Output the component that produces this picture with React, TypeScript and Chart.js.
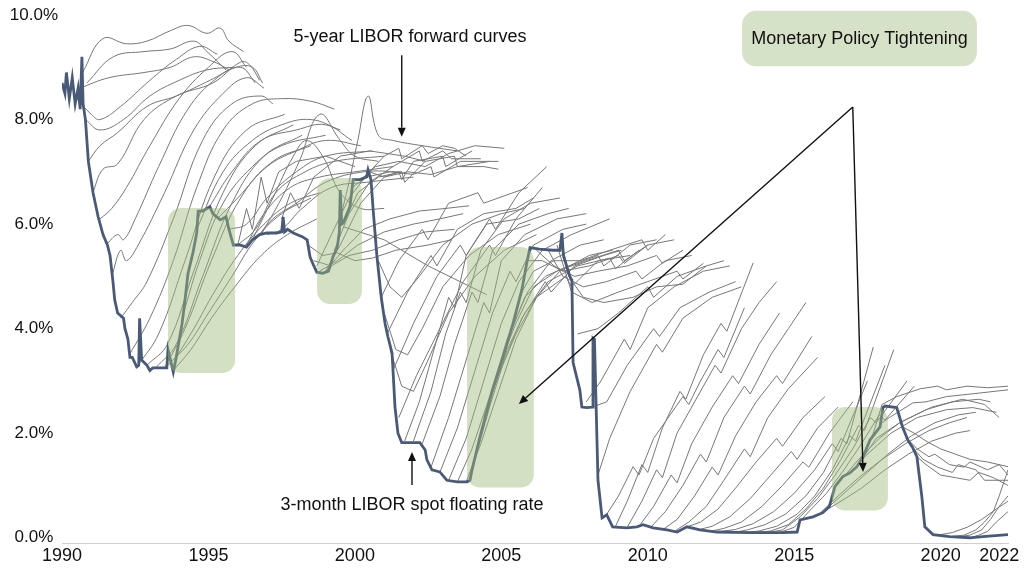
import React, { useEffect, useRef } from 'react';
import { Chart, registerables } from 'chart.js';

Chart.register(...registerables);

type P = [number, number];

const FONT = '"Liberation Sans", Arial, Helvetica, sans-serif';

// Axis ticks
const xTicks = [1990, 1995, 2000, 2005, 2010, 2015, 2020, 2022];
const yTicks = [0, 2, 4, 6, 8, 10];

// 3-month LIBOR spot rate [year, %]
const spotRate: P[] = [
  [1990.0, 8.7], [1990.1, 8.5], [1990.15, 8.9], [1990.25, 8.4], [1990.35, 8.8], [1990.45, 8.3], [1990.55, 8.6],
  [1990.62, 8.2], [1990.68, 9.2], [1990.72, 8.3], [1990.8, 8.0], [1990.9, 7.2], [1991.06, 6.6], [1991.23, 6.15],
  [1991.4, 5.8], [1991.55, 5.6], [1991.64, 5.4], [1991.74, 4.9], [1991.8, 4.55], [1991.9, 4.3], [1992.1, 4.2],
  [1992.15, 4.0], [1992.25, 3.8], [1992.32, 3.45], [1992.4, 3.45], [1992.55, 3.27], [1992.62, 3.3], [1992.65, 4.2],
  [1992.72, 3.4], [1992.9, 3.3], [1993.0, 3.2], [1993.1, 3.25], [1993.35, 3.25], [1993.58, 3.25], [1993.62, 3.6],
  [1993.8, 3.17], [1993.9, 3.45], [1994.1, 4.1], [1994.2, 4.55], [1994.3, 5.05], [1994.47, 5.45], [1994.6, 5.83],
  [1994.65, 6.25], [1994.8, 6.25], [1995.05, 6.33], [1995.15, 6.2], [1995.4, 6.08], [1995.6, 6.14], [1995.7, 5.9],
  [1995.85, 5.6], [1996.07, 5.6], [1996.3, 5.56], [1996.5, 5.7], [1996.75, 5.8], [1997.0, 5.83], [1997.33, 5.83],
  [1997.5, 5.85], [1997.55, 6.14], [1997.6, 5.85], [1997.7, 5.9], [1997.9, 5.83], [1998.2, 5.76], [1998.37, 5.7],
  [1998.47, 5.37], [1998.6, 5.2], [1998.7, 5.08], [1998.9, 5.06], [1999.1, 5.1], [1999.25, 5.37], [1999.4, 5.56],
  [1999.47, 5.85], [1999.5, 6.65], [1999.55, 6.0], [1999.6, 6.02], [1999.83, 6.33], [1999.94, 6.85], [2000.17, 6.85],
  [2000.4, 6.9], [2000.45, 7.04], [2000.55, 6.85], [2000.62, 6.3], [2000.75, 5.4], [2000.9, 4.6], [2001.03, 4.1],
  [2001.13, 3.84], [2001.27, 3.53], [2001.37, 2.5], [2001.47, 2.0], [2001.6, 1.82], [2001.88, 1.82], [2002.22, 1.82],
  [2002.4, 1.68], [2002.46, 1.49], [2002.63, 1.3], [2002.9, 1.26], [2003.14, 1.1], [2003.49, 1.07], [2003.83, 1.07],
  [2003.93, 1.1], [2004.0, 1.3], [2004.27, 1.93], [2004.7, 2.83], [2005.06, 3.46], [2005.4, 4.1], [2005.7, 4.74],
  [2005.87, 5.26], [2005.98, 5.55], [2006.3, 5.52], [2006.76, 5.5], [2007.0, 5.5], [2007.07, 5.83], [2007.12, 5.4],
  [2007.24, 5.18], [2007.34, 5.0], [2007.41, 4.93], [2007.45, 3.35], [2007.68, 2.83], [2007.75, 2.5], [2007.92, 2.49],
  [2008.1, 2.5], [2008.13, 3.82], [2008.18, 3.8], [2008.3, 1.1], [2008.44, 0.38], [2008.6, 0.44], [2008.8, 0.21],
  [2009.29, 0.19], [2009.63, 0.21], [2009.84, 0.25], [2010.18, 0.19], [2010.66, 0.15], [2011.0, 0.11], [2011.34, 0.21],
  [2011.78, 0.15], [2012.36, 0.11], [2013.49, 0.1], [2014.6, 0.1], [2015.1, 0.11], [2015.2, 0.34], [2015.64, 0.4],
  [2015.98, 0.48], [2016.2, 0.6], [2016.39, 0.98], [2016.66, 1.17], [2016.9, 1.24], [2017.14, 1.36], [2017.35, 1.55],
  [2017.59, 1.87], [2017.93, 2.12], [2018.03, 2.49], [2018.1, 2.52], [2018.5, 2.49], [2018.7, 2.12], [2018.88, 1.87],
  [2019.05, 1.72], [2019.19, 1.55], [2019.36, 0.78], [2019.46, 0.21], [2019.74, 0.06], [2020.3, 0.02], [2021.0, 0.0],
  [2021.44, 0.02], [2022.3, 0.06],
];

// 5-year forward curves, 1990s (smooth)
const forwardCurves1990s: P[][] = [
  [[1990.7, 8.9], [1991.4, 9.55], [1992.2, 9.45], [1992.9, 9.5], [1993.7, 9.7], [1994.3, 9.8], [1994.95, 9.65], [1995.4, 9.75], [1995.7, 9.5], [1996.2, 9.3]],
  [[1990.85, 8.7], [1991.75, 9.2], [1992.8, 9.3], [1993.7, 9.35], [1994.5, 9.5], [1994.95, 9.3], [1995.6, 8.95]],
  [[1990.6, 8.6], [1991.6, 8.8], [1992.8, 8.9], [1993.7, 9.0], [1994.5, 9.2], [1995.2, 9.1], [1995.7, 8.95]],
  [[1990.5, 8.4], [1991.0, 8.1], [1991.3, 8.0], [1992.0, 8.25], [1993.0, 8.75], [1993.9, 9.15], [1994.7, 9.4], [1995.3, 9.25]],
  [[1990.8, 8.0], [1991.3, 7.8], [1992.1, 8.0], [1993.0, 8.45], [1994.0, 8.75], [1994.95, 8.95], [1995.85, 9.0]],
  [[1990.9, 7.2], [1991.3, 7.5], [1991.9, 7.75], [1992.9, 8.25], [1993.9, 8.45], [1995.05, 8.75], [1995.95, 9.0], [1996.5, 9.0], [1996.85, 8.7]],
  [[1991.05, 6.6], [1991.4, 7.05], [1991.9, 7.15], [1992.8, 8.0], [1993.9, 8.45], [1995.15, 8.7], [1996.1, 9.1], [1996.4, 9.05], [1996.75, 8.75]],
  [[1991.3, 6.1], [1991.7, 6.3], [1992.2, 6.7], [1993.0, 7.5], [1994.0, 8.4], [1995.0, 9.0], [1995.8, 9.3], [1996.3, 9.0]],
  [[1991.5, 5.6], [1991.9, 5.8], [1992.1, 5.7], [1992.5, 6.1], [1993.3, 7.1], [1994.3, 8.2], [1995.3, 8.8], [1996.1, 9.0], [1996.6, 8.7]],
  [[1991.7, 5.0], [1992.0, 5.5], [1992.2, 5.3], [1992.6, 5.6], [1993.5, 6.6], [1994.5, 7.8], [1995.5, 8.5], [1996.3, 8.8], [1996.9, 8.6]],
  [[1992.0, 4.2], [1992.4, 4.5], [1992.9, 4.9], [1993.8, 6.1], [1994.8, 7.6], [1995.8, 8.3], [1996.8, 8.45], [1997.2, 8.3]],
  [[1992.3, 3.5], [1993.0, 4.2], [1993.8, 5.3], [1994.6, 6.7], [1995.5, 7.8], [1996.5, 8.3], [1997.5, 8.4], [1998.5, 8.35], [1999.3, 8.2]],
  [[1992.6, 3.3], [1993.3, 3.9], [1994.2, 5.3], [1995.2, 6.9], [1996.3, 7.8], [1997.6, 8.1]],
  [[1992.9, 3.3], [1993.6, 3.7], [1994.5, 5.1], [1995.5, 6.6], [1996.6, 7.5], [1997.9, 7.9]],
  [[1993.2, 3.25], [1993.9, 3.7], [1994.8, 5.0], [1995.8, 6.4], [1996.9, 7.3], [1998.2, 7.7]],
  [[1993.5, 3.25], [1994.2, 4.0], [1995.1, 5.3], [1996.1, 6.5], [1997.2, 7.2], [1998.5, 7.5]],
  [[1994.15, 4.3], [1994.7, 5.3], [1995.5, 6.4], [1996.5, 7.1], [1997.5, 7.5], [1999.0, 7.7]],
  [[1993.6, 3.3], [1994.3, 3.7], [1995.0, 4.3], [1995.8, 5.0], [1996.6, 5.7], [1997.5, 6.2], [1998.5, 6.5]],
  [[1993.8, 3.2], [1994.4, 3.6], [1995.1, 4.2], [1995.9, 4.8], [1996.8, 5.4], [1997.7, 5.8], [1998.7, 6.1]],
  [[1993.9, 3.45], [1994.5, 4.0], [1995.2, 4.7], [1996.0, 5.4], [1996.9, 6.0], [1997.8, 6.4], [1998.8, 6.6]],
  [[1994.6, 5.9], [1995.5, 7.0], [1996.5, 7.6], [1997.5, 7.9], [1998.5, 8.0], [1999.5, 7.8]],
  [[1995.0, 6.3], [1995.8, 7.0], [1996.8, 7.6], [1998.0, 7.8], [1999.0, 7.9], [1999.9, 7.6]],
  [[1995.3, 6.1], [1996.0, 6.5], [1997.0, 7.1], [1998.0, 7.4], [1999.0, 7.6], [2000.2, 7.5]],
  [[1995.7, 5.9], [1996.3, 6.0], [1997.0, 6.5], [1998.0, 7.0], [1999.0, 7.3], [2000.6, 7.4]],
  [[1996.0, 5.6], [1996.6, 5.9], [1997.3, 6.6], [1998.3, 7.0], [1999.3, 7.2], [2001.0, 7.3]],
  [[1996.3, 5.6], [1996.9, 6.2], [1997.8, 6.7], [1998.8, 6.9], [2000.0, 7.0], [2001.3, 7.1]],
  [[1996.6, 5.7], [1997.2, 6.1], [1998.0, 6.4], [1999.0, 6.8], [2000.3, 7.0], [2001.6, 7.0]],
  [[1997.0, 5.8], [1997.5, 5.9], [1998.2, 6.3], [1999.2, 6.7], [2000.4, 6.8], [2002.0, 6.9]],
  [[1996.5, 5.7], [1997.2, 6.5], [1997.9, 7.3], [1998.35, 7.6], [1998.9, 7.3], [1999.5, 6.6], [2000.2, 6.3], [2001.0, 6.3]],
  [[1996.8, 5.8], [1997.5, 6.5], [1998.1, 7.2], [1998.8, 8.1], [1999.5, 7.6], [2000.0, 7.3], [2000.8, 7.2]],
  [[1999.45, 6.0], [1999.8, 6.8], [2000.1, 7.6], [2000.45, 8.45], [2000.8, 7.7], [2001.3, 7.6], [2002.3, 7.5], [2003.5, 7.4]],
];

// 5-year forward curves, 1996-2009 (jagged)
const forwardCurves2000s: P[][] = [
  [[1996.0, 5.6], [1996.3, 6.3], [1996.5, 5.9], [1996.8, 6.9], [1997.0, 6.4], [1997.4, 7.0], [1998.0, 7.2], [1999.0, 7.3], [2000.0, 7.1]],
  [[1997.5, 6.1], [1997.8, 6.6], [1998.1, 6.3], [1998.6, 6.9], [1999.5, 7.3], [2000.5, 7.4], [2001.7, 7.3], [2002.4, 7.2]],
  [[1998.7, 5.2], [1999.2, 5.8], [1999.8, 6.5], [2000.5, 7.0], [2001.0, 7.3], [2001.5, 7.45], [2001.6, 7.25], [2002.3, 7.5], [2002.5, 7.35], [2003.0, 7.5], [2003.4, 7.45], [2003.8, 7.3]],
  [[1999.0, 5.1], [1999.5, 5.6], [2000.2, 6.4], [2001.0, 6.9], [2001.5, 7.0], [2001.6, 6.85], [2002.0, 7.2], [2003.0, 7.3], [2003.1, 7.1], [2004.0, 7.4]],
  [[1999.3, 5.5], [1999.8, 6.2], [2000.5, 6.8], [2001.3, 7.1], [2002.2, 7.4], [2002.3, 7.2], [2003.0, 7.4], [2003.3, 7.25], [2004.3, 7.25]],
  [[1999.6, 6.0], [2000.1, 6.6], [2000.8, 6.9], [2001.6, 7.0], [2001.7, 6.8], [2002.4, 7.2], [2003.4, 7.3], [2003.5, 7.1], [2004.6, 7.2]],
  [[1999.9, 6.7], [2000.4, 6.9], [2001.2, 7.0], [2002.0, 6.95], [2002.6, 7.1], [2002.7, 6.9], [2003.6, 7.2], [2004.9, 7.2]],
  [[2000.2, 6.85], [2000.7, 7.1], [2001.5, 7.2], [2002.4, 7.1], [2003.2, 7.35], [2004.1, 7.5], [2005.1, 7.45]],
  [[2000.5, 7.0], [2001.0, 6.9], [2001.8, 7.0], [2002.6, 6.95], [2003.5, 7.1], [2004.4, 7.1], [2004.9, 7.05]],
  [[1999.0, 5.1], [1999.6, 5.5], [2000.3, 5.9], [2001.2, 6.1], [2002.2, 6.25], [2003.1, 6.3], [2003.9, 6.35]],
  [[1998.8, 5.1], [1999.4, 5.3], [2000.1, 5.6], [2001.0, 5.85], [2002.0, 6.0], [2002.9, 6.1], [2003.7, 6.2]],
  [[1998.6, 5.3], [1999.2, 5.2], [1999.8, 5.4], [2000.6, 5.5], [2001.5, 5.7], [2002.4, 5.85], [2003.4, 5.9]],
  [[1998.4, 5.6], [1998.9, 5.4], [1999.4, 5.45], [2000.0, 5.3], [2000.6, 5.35], [2001.4, 5.5], [2002.5, 5.6], [2003.3, 5.7]],
  [[1999.6, 5.95], [2001.0, 5.7], [2002.5, 5.2], [2004.5, 4.65]],
  [[2000.9, 4.6], [2001.5, 5.3], [2002.3, 5.9], [2002.5, 5.7], [2003.2, 6.4], [2004.2, 6.6], [2004.4, 6.4], [2005.4, 6.6], [2005.9, 6.7]],
  [[2001.1, 3.9], [2001.8, 4.7], [2002.6, 5.4], [2002.8, 5.2], [2003.5, 5.9], [2004.4, 6.2], [2005.5, 6.3], [2006.1, 6.5]],
  [[2001.3, 3.2], [2002.0, 4.1], [2002.8, 5.0], [2003.6, 5.6], [2003.8, 5.4], [2004.5, 6.0], [2005.6, 6.1], [2006.3, 6.3]],
  [[2001.5, 2.3], [2002.1, 3.1], [2002.9, 4.0], [2003.7, 4.9], [2004.6, 5.6], [2004.8, 5.4], [2005.5, 6.1], [2006.4, 6.7]],
  [[2001.7, 1.85], [2002.2, 2.6], [2002.7, 3.6], [2003.2, 4.6], [2003.4, 4.4], [2003.8, 5.4], [2004.6, 6.1], [2004.8, 5.9], [2005.6, 6.6], [2006.55, 7.1]],
  [[2002.0, 1.85], [2002.6, 2.8], [2003.1, 3.9], [2003.6, 4.7], [2003.8, 4.5], [2004.3, 5.5], [2005.1, 6.1], [2006.0, 6.4], [2007.0, 6.5]],
  [[2002.3, 1.8], [2002.9, 2.7], [2003.4, 3.7], [2004.0, 4.7], [2004.2, 4.5], [2004.7, 5.5], [2005.6, 6.0], [2006.6, 6.2], [2007.3, 6.3]],
  [[2002.6, 1.35], [2003.2, 2.3], [2003.8, 3.4], [2004.4, 4.5], [2004.6, 4.3], [2005.0, 5.3], [2005.8, 5.8], [2006.9, 6.1], [2007.9, 6.2]],
  [[2002.9, 1.25], [2003.5, 2.1], [2004.1, 3.2], [2004.7, 4.3], [2005.3, 5.1], [2005.5, 4.9], [2006.1, 5.6], [2007.1, 5.9], [2007.9, 6.0]],
  [[2003.2, 1.1], [2003.8, 1.9], [2004.4, 3.0], [2005.0, 4.1], [2005.6, 4.9], [2006.4, 5.5], [2007.4, 5.8], [2008.7, 6.1]],
  [[2003.5, 1.07], [2004.0, 1.7], [2004.6, 2.7], [2005.2, 3.8], [2005.9, 4.7], [2006.7, 5.3], [2007.7, 5.6], [2008.5, 5.7]],
  [[2003.8, 1.07], [2004.3, 1.8], [2004.9, 2.8], [2005.5, 3.8], [2006.2, 4.6], [2007.0, 5.1], [2008.0, 5.4], [2008.8, 5.5]],
  [[2000.8, 5.3], [2001.2, 4.8], [2001.6, 4.6], [2002.2, 5.0], [2003.0, 5.6], [2004.0, 6.0], [2005.0, 6.2], [2005.8, 6.3]],
  [[2001.0, 4.3], [2001.4, 3.6], [2001.8, 3.5], [2002.3, 4.0], [2003.0, 4.8], [2003.9, 5.4], [2004.9, 5.8], [2006.0, 6.0]],
  [[2001.2, 3.6], [2001.6, 2.9], [2002.0, 2.8], [2002.5, 3.4], [2003.2, 4.3], [2004.1, 5.0], [2005.1, 5.5], [2006.2, 5.8]],
  [[2004.1, 1.5], [2004.6, 2.5], [2005.1, 3.4], [2005.7, 4.2], [2006.5, 4.9], [2006.7, 4.7], [2007.5, 5.2], [2008.5, 5.4], [2009.1, 5.5]],
  [[2004.4, 2.3], [2004.9, 3.1], [2005.5, 3.9], [2006.2, 4.6], [2007.2, 5.0], [2007.4, 4.8], [2008.3, 5.3], [2009.4, 5.4]],
  [[2004.7, 2.8], [2005.2, 3.6], [2005.8, 4.3], [2006.6, 4.9], [2007.6, 5.2], [2008.7, 5.35], [2008.9, 5.15], [2009.7, 5.5]],
  [[2005.0, 3.4], [2005.5, 4.1], [2006.1, 4.8], [2006.9, 5.1], [2007.9, 5.3], [2009.0, 5.5], [2009.2, 5.3], [2010.0, 5.6]],
  [[2005.3, 3.9], [2005.8, 4.6], [2006.5, 5.0], [2007.3, 5.2], [2008.3, 5.4], [2008.5, 5.2], [2009.4, 5.6], [2010.3, 5.7]],
  [[2005.6, 4.6], [2006.1, 5.1], [2006.8, 5.3], [2007.7, 5.3], [2008.7, 5.5], [2009.8, 5.7], [2010.0, 5.5], [2010.6, 5.8]],
  [[2005.9, 5.3], [2006.4, 5.3], [2007.1, 5.1], [2008.0, 5.2], [2009.0, 5.4], [2009.2, 5.25], [2010.0, 5.6], [2010.9, 5.7]],
  [[2006.2, 5.5], [2006.8, 5.2], [2007.5, 5.0], [2008.3, 5.1], [2009.3, 5.2], [2010.3, 5.4], [2010.5, 5.25], [2011.2, 5.5]],
  [[2006.6, 5.5], [2007.1, 5.0], [2007.8, 4.8], [2008.6, 4.9], [2009.6, 5.1], [2009.8, 4.95], [2010.6, 5.3], [2011.5, 5.4]],
  [[2006.9, 5.6], [2007.4, 4.7], [2008.1, 4.5], [2009.0, 4.7], [2010.0, 4.9], [2011.0, 5.1], [2011.2, 4.95], [2011.9, 5.25]],
  [[2007.05, 5.7], [2007.3, 5.0], [2007.8, 4.6], [2008.5, 4.5], [2009.5, 4.6], [2010.3, 4.8], [2011.2, 4.85], [2012.0, 5.2]],
  [[2007.6, 3.9], [2008.3, 4.0], [2009.0, 4.3], [2010.0, 4.8], [2010.2, 4.6], [2011.0, 5.0], [2012.0, 5.2], [2012.6, 5.3]],
  [[2007.9, 2.6], [2008.4, 3.0], [2009.2, 3.8], [2009.4, 3.6], [2010.0, 4.4], [2010.9, 4.8], [2011.9, 5.1], [2012.8, 5.2]],
  [[2008.1, 2.5], [2008.6, 2.6], [2009.3, 3.3], [2010.2, 4.0], [2010.4, 3.85], [2011.1, 4.4], [2012.1, 4.7], [2013.0, 4.9]],
  [[2008.3, 1.2], [2008.7, 1.9], [2009.4, 2.8], [2010.3, 3.7], [2010.5, 3.55], [2011.2, 4.2], [2012.2, 4.6], [2013.2, 4.8]],
];

// 5-year forward curves, 2008-2022 (jagged)
const forwardCurves2010s: P[][] = [
  [[2008.6, 0.45], [2009.0, 0.8], [2009.5, 1.36], [2009.7, 1.2], [2010.2, 1.9], [2010.65, 2.26], [2011.2, 2.7], [2011.4, 2.55], [2011.8, 3.0], [2012.4, 3.6], [2012.6, 3.45], [2013.3, 4.4]],
  [[2008.9, 0.22], [2009.3, 0.7], [2009.8, 1.4], [2010.0, 1.25], [2010.5, 2.1], [2011.1, 2.8], [2011.3, 2.65], [2011.9, 3.5], [2012.5, 4.1], [2012.7, 3.95], [2013.6, 5.26]],
  [[2009.3, 0.2], [2009.8, 0.7], [2010.3, 1.3], [2010.5, 1.15], [2011.0, 2.0], [2011.6, 2.6], [2012.3, 3.3], [2012.5, 3.15], [2013.2, 4.0], [2013.8, 4.5], [2014.4, 4.9]],
  [[2009.7, 0.22], [2010.2, 0.6], [2010.8, 1.2], [2011.0, 1.05], [2011.5, 1.8], [2012.2, 2.5], [2012.9, 3.1], [2013.1, 2.95], [2013.8, 3.7], [2014.5, 4.3]],
  [[2010.1, 0.2], [2010.6, 0.5], [2011.2, 1.0], [2011.8, 1.6], [2012.0, 1.45], [2012.6, 2.3], [2013.3, 2.9], [2013.5, 2.75], [2014.2, 3.5], [2014.8, 4.0], [2015.4, 4.5]],
  [[2010.5, 0.15], [2011.0, 0.35], [2011.6, 0.8], [2012.2, 1.35], [2012.4, 1.2], [2013.0, 1.95], [2013.7, 2.6], [2014.4, 3.1], [2014.6, 2.95], [2015.6, 3.85]],
  [[2010.9, 0.12], [2011.4, 0.3], [2012.0, 0.6], [2012.6, 1.1], [2013.3, 1.7], [2013.5, 1.55], [2014.1, 2.3], [2014.8, 2.85], [2015.8, 3.45]],
  [[2011.3, 0.2], [2011.8, 0.3], [2012.4, 0.55], [2013.0, 0.95], [2013.7, 1.45], [2014.4, 1.9], [2014.6, 1.75], [2015.3, 2.3], [2016.05, 2.7]],
  [[2011.7, 0.15], [2012.2, 0.22], [2012.8, 0.4], [2013.5, 0.75], [2014.2, 1.2], [2014.9, 1.65], [2015.1, 1.5], [2015.8, 2.1], [2016.5, 2.5]],
  [[2012.1, 0.12], [2012.6, 0.18], [2013.2, 0.3], [2013.9, 0.6], [2014.6, 1.0], [2015.3, 1.45], [2015.5, 1.35], [2016.2, 2.0], [2017.0, 2.6]],
  [[2012.5, 0.12], [2013.0, 0.16], [2013.6, 0.27], [2014.3, 0.5], [2015.0, 0.85], [2015.7, 1.3], [2016.3, 1.8], [2016.5, 1.65], [2017.5, 3.0]],
  [[2012.9, 0.1], [2013.4, 0.15], [2014.0, 0.25], [2014.7, 0.45], [2015.4, 0.8], [2016.0, 1.25], [2016.6, 1.9], [2016.8, 1.8], [2017.7, 3.65]],
  [[2013.3, 0.1], [2013.8, 0.13], [2014.4, 0.22], [2015.1, 0.45], [2015.7, 0.8], [2016.3, 1.3], [2016.9, 1.95], [2017.1, 1.85], [2018.1, 3.3]],
  [[2013.7, 0.1], [2014.2, 0.13], [2014.8, 0.25], [2015.4, 0.55], [2016.0, 0.95], [2016.6, 1.5], [2017.2, 2.15], [2017.4, 2.05], [2018.4, 3.6]],
  [[2014.1, 0.1], [2014.6, 0.15], [2015.2, 0.4], [2015.8, 0.75], [2016.4, 1.2], [2017.0, 1.7], [2017.6, 2.3], [2017.8, 2.2], [2018.85, 3.0]],
  [[2014.5, 0.1], [2015.0, 0.2], [2015.5, 0.5], [2016.1, 0.85], [2016.7, 1.3], [2017.3, 1.8], [2017.9, 2.35], [2018.1, 2.25], [2019.1, 2.9]],
  [[2017.3, 1.5], [2017.7, 2.0], [2018.0, 2.55], [2018.5, 2.7], [2019.3, 2.85], [2019.9, 2.9], [2020.2, 2.83], [2020.9, 2.9], [2021.6, 2.87], [2022.3, 2.9]],
  [[2017.6, 1.87], [2018.0, 2.2], [2018.25, 2.3], [2019.05, 2.58], [2019.5, 2.6], [2020.2, 2.7], [2021.35, 2.77], [2022.3, 2.83]],
  [[2017.2, 1.4], [2017.8, 1.9], [2018.6, 2.2], [2019.7, 2.5], [2020.75, 2.65], [2021.5, 2.55], [2022.0, 2.3]],
  [[2016.9, 1.24], [2017.5, 1.6], [2018.3, 2.0], [2019.2, 2.3], [2020.2, 2.45], [2021.1, 2.49], [2021.9, 2.4]],
  [[2015.9, 0.48], [2016.5, 0.8], [2017.2, 1.15], [2018.0, 1.5], [2018.8, 1.8], [2019.6, 2.05], [2020.3, 2.2], [2020.9, 2.3]],
  [[2016.2, 0.6], [2016.8, 0.9], [2017.5, 1.25], [2018.2, 1.6], [2019.0, 1.95], [2019.8, 2.2], [2020.6, 2.35], [2021.2, 2.4]],
  [[2016.0, 0.5], [2016.6, 0.7], [2017.3, 0.95], [2018.1, 1.3], [2018.9, 1.6], [2019.7, 1.85], [2020.5, 2.0], [2021.0, 2.05]],
  [[2016.7, 1.17], [2017.2, 1.5], [2017.9, 1.9], [2018.6, 2.2], [2019.5, 2.45], [2020.4, 2.6], [2021.3, 2.65], [2021.7, 2.6]],
  [[2018.7, 2.12], [2019.1, 2.0], [2019.5, 1.85], [2020.0, 1.7], [2020.5, 1.6], [2021.0, 1.5], [2021.6, 1.45], [2022.3, 1.36]],
  [[2018.9, 1.87], [2019.2, 1.7], [2019.6, 1.55], [2019.8, 1.6], [2020.3, 1.4], [2020.8, 1.35], [2021.0, 1.45], [2021.6, 1.3], [2022.0, 1.4], [2022.3, 1.2]],
  [[2019.05, 1.72], [2019.4, 1.5], [2019.9, 1.35], [2020.4, 1.25], [2020.6, 1.4], [2021.2, 1.3], [2021.5, 1.1], [2022.3, 1.1]],
  [[2019.19, 1.55], [2019.5, 1.4], [2020.0, 1.2], [2020.5, 1.15], [2021.0, 1.1], [2021.3, 1.25], [2021.8, 1.15], [2022.3, 1.0]],
  [[2020.3, 0.02], [2020.8, 0.05], [2021.2, 0.15], [2021.5, 0.3], [2021.8, 0.5], [2022.0, 0.8], [2022.3, 1.3]],
  [[2020.6, 0.02], [2021.0, 0.05], [2021.4, 0.15], [2021.7, 0.35], [2022.0, 0.6], [2022.3, 0.8]],
  [[2021.0, 0.0], [2021.3, 0.05], [2021.6, 0.12], [2021.9, 0.3], [2022.3, 0.5]],
  [[2019.9, 0.05], [2020.4, 0.1], [2020.9, 0.2], [2021.4, 0.35], [2021.9, 0.55], [2022.3, 0.7]],
];

// Shaded tightening periods: [fromYear, toYear, lowRate, highRate]
const tighteningPeriods: [number, number, number, number][] = [
  [1993.62, 1995.91, 3.15, 6.31],
  [1998.71, 2000.24, 4.47, 6.88],
  [2003.83, 2006.11, 0.96, 5.56],
  [2016.29, 2018.2, 0.52, 2.5],
];

const annotationPlugin = {
  id: 'liborAnnotations',
  afterDatasetsDraw(chart: any) {
    const { ctx } = chart;
    const xs = chart.scales.x;
    const ys = chart.scales.y;
    const px = (v: number) => xs.getPixelForValue(v);
    const py = (v: number) => ys.getPixelForValue(v);
    ctx.save();
    // green shaded boxes over the lines
    ctx.fillStyle = 'rgba(157,186,124,0.45)';
    for (const [x0, x1, y0, y1] of tighteningPeriods) {
      const l = px(x0), r = px(x1), t = py(y1), b = py(y0);
      ctx.beginPath();
      ctx.roundRect(l, t, r - l, b - t, 13);
      ctx.fill();
    }
    // legend-like label box
    const lbL = px(2013.22), lbR = px(2021.24), lbT = py(10.08), lbB = py(9.02);
    ctx.fillStyle = '#d6e2c8';
    ctx.beginPath();
    ctx.roundRect(lbL, lbT, lbR - lbL, lbB - lbT, 14);
    ctx.fill();

    const arrow = (x1: number, y1: number, x2: number, y2: number) => {
      const ang = Math.atan2(y2 - y1, x2 - x1);
      const len = 9, hw = 4;
      const bx = x2 - len * Math.cos(ang), by = y2 - len * Math.sin(ang);
      ctx.strokeStyle = '#111';
      ctx.lineWidth = 1.4;
      ctx.beginPath();
      ctx.moveTo(x1, y1);
      ctx.lineTo(bx, by);
      ctx.stroke();
      ctx.fillStyle = '#111';
      ctx.beginPath();
      ctx.moveTo(x2, y2);
      ctx.lineTo(bx - hw * Math.sin(ang), by + hw * Math.cos(ang));
      ctx.lineTo(bx + hw * Math.sin(ang), by - hw * Math.cos(ang));
      ctx.closePath();
      ctx.fill();
    };

    arrow(px(2001.6), py(9.23), px(2001.6), py(7.67));
    arrow(px(2017.0), py(8.24), px(2005.6), py(2.56));
    arrow(px(2017.0), py(8.24), px(2017.35), py(1.26));
    arrow(px(2011.95) - px(2011.95) + px(2001.95), py(1.01), px(2001.95), py(1.64));

    ctx.fillStyle = '#111';
    ctx.font = `18px ${FONT}`;
    ctx.textAlign = 'center';
    ctx.textBaseline = 'middle';
    ctx.fillText('5-year LIBOR forward curves', px(2001.88), py(9.58));
    ctx.fillText('3-month LIBOR spot floating rate', px(2001.95), py(0.63));
    ctx.fillText('Monetary Policy Tightening', (lbL + lbR) / 2, (lbT + lbB) / 2 + 1);
    ctx.restore();
  },
};

export default function App() {
  const ref = useRef<HTMLCanvasElement | null>(null);
  useEffect(() => {
    if (!ref.current) return;
    const toXY = (pts: P[]) => pts.map(([x, y]) => ({ x, y }));
    const curveDs = (pts: P[], tension: number) => ({
      data: toXY(pts),
      borderColor: '#777777',
      borderWidth: 1,
      tension,
      pointRadius: 0,
      fill: false,
      order: 1,
    });
    const datasets: any[] = [
      {
        data: toXY(spotRate),
        borderColor: '#4a5a76',
        borderWidth: 2.8,
        tension: 0,
        pointRadius: 0,
        fill: false,
        order: 0,
      },
      ...forwardCurves1990s.map((c) => curveDs(c, 0.4)),
      ...forwardCurves2000s.map((c) => curveDs(c, 0)),
      ...forwardCurves2010s.map((c) => curveDs(c, 0)),
    ];
    const chart = new Chart(ref.current, {
      type: 'line',
      data: { datasets },
      options: {
        animation: false,
        responsive: false,
        devicePixelRatio: 1,
        events: [],
        layout: { padding: { top: 15, right: 16, bottom: 0, left: 0 } },
        plugins: { legend: { display: false }, tooltip: { enabled: false } },
        elements: { point: { radius: 0 } },
        scales: {
          x: {
            type: 'linear',
            min: 1990,
            max: 2022.3,
            afterBuildTicks: (s: any) => {
              s.ticks = xTicks.map((v) => ({ value: v }));
            },
            afterFit: (s: any) => {
              s.height = 30;
            },
            ticks: {
              autoSkip: false,
              maxRotation: 0,
              padding: 2,
              color: '#111',
              font: { size: 18, family: FONT },
              callback: (v: any) => String(v),
            },
            grid: { display: false, drawTicks: false },
            border: { display: true, color: '#cfcfcf', width: 1 },
          },
          y: {
            type: 'linear',
            min: -0.1,
            max: 10,
            afterBuildTicks: (s: any) => {
              s.ticks = yTicks.map((v) => ({ value: v }));
            },
            afterFit: (s: any) => {
              s.width = 62;
            },
            ticks: {
              padding: 4,
              crossAlign: 'center',
              color: '#111',
              font: { size: 17, family: FONT },
              callback: (v: any) => Number(v).toFixed(1) + '%',
            },
            grid: { display: false, drawTicks: false },
            border: { display: false },
          },
        },
      } as any,
      plugins: [annotationPlugin],
    });
    return () => chart.destroy();
  }, []);
  return (
    <div style={{ position: 'absolute', left: 0, top: 0, width: 1024, height: 573, background: '#fff' }}>
      <canvas ref={ref} width={1024} height={573} style={{ display: 'block' }} />
    </div>
  );
}
